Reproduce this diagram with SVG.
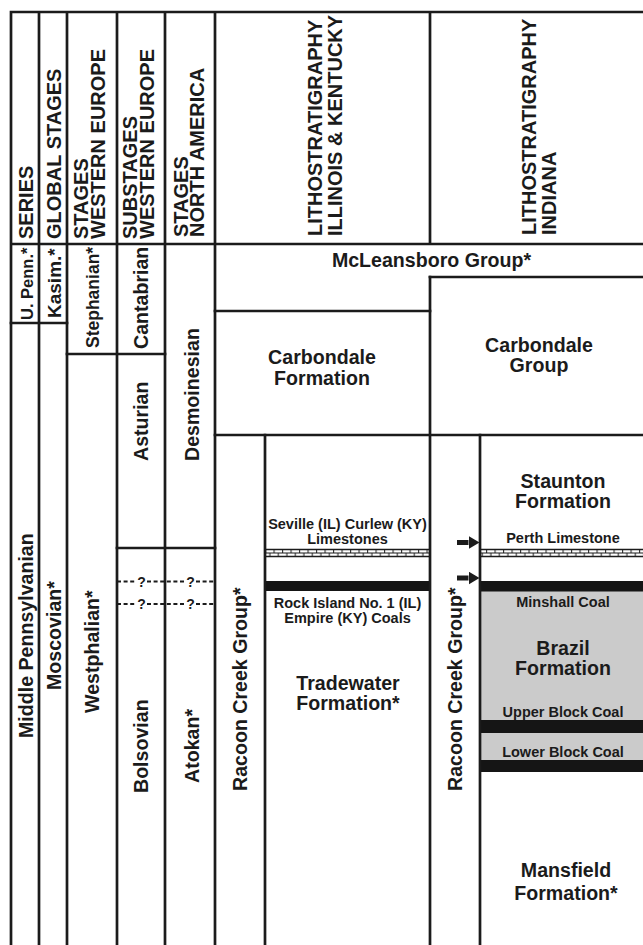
<svg xmlns="http://www.w3.org/2000/svg" width="643" height="945" viewBox="0 0 643 945">
<defs>
<style>
.ln{stroke:#1b1b1b;stroke-width:2.7;fill:none;stroke-linecap:square}
.ds{stroke:#1b1b1b;stroke-width:2;stroke-dasharray:4 2.6;fill:none}
.thin{stroke:#1b1b1b;stroke-width:1.4;fill:none}
text{font-family:"Liberation Sans",Arial,Helvetica,sans-serif;font-weight:bold;fill:#1b1b1b}
.h{font-size:20px}
.b{font-size:19.6px}
.s{font-size:14.5px}
.q{font-size:14px}
.c{text-anchor:middle}
.coal{fill:#151515}
.grey{fill:#cbcbcb}
</style>
<pattern id="lime" patternUnits="userSpaceOnUse" x="265" y="549" width="8.5" height="8">
<rect width="8.5" height="8" fill="#fff"/>
<path d="M0,4H8.5M0.6,0V4M4.85,4V8" stroke="#1b1b1b" stroke-width="1"/>
</pattern>
<marker id="ah" markerUnits="userSpaceOnUse" markerWidth="13" markerHeight="14" refX="0" refY="6.5" orient="auto">
<path d="M0,0L11,6.5L0,13z" fill="#1b1b1b"/>
</marker>
</defs>
<rect width="643" height="945" fill="#fff"/>

<g id="lithology-fills">
<rect class="grey" x="480" y="591" width="163" height="169"/>
<rect x="265" y="549" width="165" height="8" fill="url(#lime)"/>
<rect x="480" y="549" width="163" height="8" fill="url(#lime)"/>
<path class="thin" d="M265,549.5H430M265,556.5H430M480,549.5H643M480,556.5H643"/>
<rect class="coal" x="265" y="581" width="165" height="10"/>
<rect class="coal" x="480" y="581" width="163" height="10.5"/>
<rect class="coal" x="480" y="720" width="163" height="13"/>
<rect class="coal" x="480" y="760" width="163" height="12"/>
</g>

<g id="grid">
<path class="ln" d="M11,12H643M11,244H643M11,12V945M39,12V945M67,12V945M117,12V945M165,12V945M215,12V945M430,12V244M430,277V945M265,435V945M480,435V945"/>
<path class="ln" d="M11,323H67M67,354H165M117,548H215M215,311H430M430,277H643M215,435H643"/>
<path class="ds" d="M117,581.5H136M147,581.5H185M196,581.5H215M117,604H136M147,604H185M196,604H215"/>
</g>

<g id="connectors">
<line x1="457" y1="542.5" x2="468.5" y2="542.5" stroke="#1b1b1b" stroke-width="5" marker-end="url(#ah)"/>
<line x1="457" y1="578" x2="468.5" y2="578" stroke="#1b1b1b" stroke-width="5" marker-end="url(#ah)"/>
</g>

<g id="header-series"><text class="h" transform="translate(32.5,239) rotate(-90)">SERIES</text></g>
<g id="header-global"><text class="h" transform="translate(60.5,239) rotate(-90)">GLOBAL STAGES</text></g>
<g id="header-stages-we"><text class="h" transform="translate(88,239) rotate(-90)"><tspan x="0" y="0">STAGES</tspan><tspan x="0" y="17">WESTERN EUROPE</tspan></text></g>
<g id="header-substages-we"><text class="h" transform="translate(136.5,239) rotate(-90)"><tspan x="0" y="0">SUBSTAGES</tspan><tspan x="0" y="17">WESTERN EUROPE</tspan></text></g>
<g id="header-stages-na"><text class="h" transform="translate(187.5,237) rotate(-90)"><tspan x="0" y="0">STAGES</tspan><tspan x="0" y="16.5">NORTH AMERICA</tspan></text></g>
<g id="header-litho-ilky"><text class="h" transform="translate(321.5,236) rotate(-90)"><tspan x="0" y="0">LITHOSTRATIGRAPHY</tspan><tspan x="0" y="20">ILLINOIS &amp; KENTUCKY</tspan></text></g>
<g id="header-litho-in"><text class="h" transform="translate(535.5,235) rotate(-90)"><tspan x="0" y="0">LITHOSTRATIGRAPHY</tspan><tspan x="0" y="20">INDIANA</tspan></text></g>

<g id="u-penn"><text class="b" style="font-size:16.5px" transform="translate(32.5,320) rotate(-90)">U. Penn.*</text></g>
<g id="middle-penn"><text class="b" transform="translate(32.5,738) rotate(-90)">Middle Pennsylvanian</text></g>
<g id="kasim"><text class="b" style="font-size:19px" transform="translate(61,318) rotate(-90)">Kasim.*</text></g>
<g id="moscovian"><text class="b" transform="translate(61,690) rotate(-90)">Moscovian*</text></g>
<g id="stephanian"><text class="b" style="font-size:17.5px" transform="translate(98.5,348) rotate(-90)">Stephanian*</text></g>
<g id="westphalian"><text class="b" transform="translate(98.5,713) rotate(-90)">Westphalian*</text></g>
<g id="cantabrian"><text class="b" transform="translate(147.5,349) rotate(-90)">Cantabrian</text></g>
<g id="asturian"><text class="b" transform="translate(147.5,461) rotate(-90)">Asturian</text></g>
<g id="bolsovian"><text class="b" transform="translate(147.5,793) rotate(-90)">Bolsovian</text>
<text class="q c" x="141.5" y="586.5">?</text><text class="q c" x="141.5" y="609">?</text></g>
<g id="desmoinesian"><text class="b" transform="translate(198.5,461) rotate(-90)">Desmoinesian</text></g>
<g id="atokan"><text class="b" transform="translate(198.5,783) rotate(-90)">Atokan*</text>
<text class="q c" x="190.5" y="586.5">?</text><text class="q c" x="190.5" y="609">?</text></g>

<g id="mcleansboro"><text class="b c" x="431.5" y="266.5">McLeansboro Group*</text></g>
<g id="carbondale-fm"><text class="b c"><tspan x="322" y="364">Carbondale</tspan><tspan x="322" y="384.5">Formation</tspan></text></g>
<g id="carbondale-grp"><text class="b c"><tspan x="539" y="352">Carbondale</tspan><tspan x="539" y="372">Group</tspan></text></g>
<g id="racoon-ilky"><text class="b" transform="translate(247,791) rotate(-90)">Racoon Creek Group*</text></g>
<g id="racoon-in"><text class="b" transform="translate(462,791) rotate(-90)">Racoon Creek Group*</text></g>
<g id="seville"><text class="s c"><tspan x="347.5" y="529">Seville (IL) Curlew (KY)</tspan><tspan x="347.5" y="544">Limestones</tspan></text></g>
<g id="rock-island"><text class="s c"><tspan x="347.5" y="607.5">Rock Island No. 1 (IL)</tspan><tspan x="347.5" y="622.5">Empire (KY) Coals</tspan></text></g>
<g id="tradewater"><text class="b c"><tspan x="348" y="689.5">Tradewater</tspan><tspan x="348" y="710">Formation*</tspan></text></g>
<g id="staunton"><text class="b c"><tspan x="563" y="487.5">Staunton</tspan><tspan x="563" y="507.5">Formation</tspan></text></g>
<g id="perth"><text class="s c" x="563" y="543">Perth Limestone</text></g>
<g id="minshall"><text class="s c" x="563" y="607">Minshall Coal</text></g>
<g id="brazil"><text class="b c"><tspan x="563" y="654.5">Brazil</tspan><tspan x="563" y="675">Formation</tspan></text></g>
<g id="upper-block"><text class="s c" x="563" y="717">Upper Block Coal</text></g>
<g id="lower-block"><text class="s c" x="563" y="756.5">Lower Block Coal</text></g>
<g id="mansfield"><text class="b c"><tspan x="566" y="877">Mansfield</tspan><tspan x="566" y="900">Formation*</tspan></text></g>
</svg>
